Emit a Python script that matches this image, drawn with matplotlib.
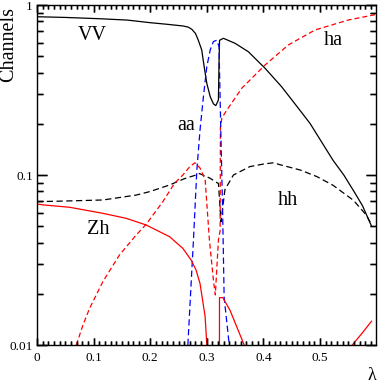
import numpy as np
import matplotlib
matplotlib.use("Agg")
import matplotlib.pyplot as plt
from matplotlib.collections import LineCollection
from matplotlib.ticker import FixedLocator, FixedFormatter, LogLocator, NullFormatter, MultipleLocator

plt.rcParams['font.family'] = ['Liberation Serif', 'DejaVu Serif']

# ---- data ----
vv_x = [0, 0.05, 0.112, 0.16, 0.2, 0.23, 0.259, 0.2676, 0.2736, 0.28, 0.285, 0.291, 0.2953, 0.300,
        0.306, 0.3117, 0.3159, 0.3205, 0.3215, 0.3225, 0.3293, 0.35, 0.3734, 0.403, 0.432, 0.4617,
        0.4824, 0.523, 0.542, 0.56, 0.575, 0.591]
vv_y = [0.853, 0.845, 0.83, 0.815, 0.787, 0.77, 0.752, 0.74, 0.719, 0.68, 0.62, 0.544, 0.434, 0.346,
        0.289, 0.262, 0.256, 0.276, 0.45, 0.62, 0.637, 0.595, 0.531, 0.424, 0.331, 0.247,
        0.201, 0.122, 0.1, 0.08, 0.066, 0.05]

hh_x = [0, 0.05, 0.1164, 0.1753, 0.2, 0.234, 0.26, 0.281, 0.287, 0.306, 0.3206, 0.325, 0.332, 0.347,
        0.376, 0.40, 0.418, 0.429, 0.465, 0.494, 0.523, 0.559, 0.582, 0.591]
hh_y = [0.0697, 0.0703, 0.0713, 0.0762, 0.080, 0.0873, 0.095, 0.1, 0.102, 0.0956, 0.089, 0.053, 0.082, 0.1,
        0.112, 0.116, 0.118, 0.115, 0.107, 0.098, 0.087, 0.071, 0.058, 0.051]

ha_x = [0.0694, 0.0812, 0.0928, 0.1164, 0.1458, 0.1753, 0.1929, 0.2223, 0.2429, 0.2577, 0.270, 0.279,
        0.288, 0.297, 0.3046, 0.3117, 0.315, 0.3205, 0.3235, 0.3240, 0.3265, 0.335, 0.3618, 0.403,
        0.444, 0.4912, 0.55, 0.597]
ha_y = [0.01, 0.0131, 0.0164, 0.0236, 0.0339, 0.0444, 0.0513, 0.0697, 0.0893, 0.1, 0.112, 0.118,
        0.11, 0.094, 0.0415, 0.024, 0.0197, 0.0415, 0.047, 0.19, 0.216, 0.24, 0.324, 0.444,
        0.582, 0.713, 0.816, 0.877]

aa_x = [0.2665, 0.2764, 0.2824, 0.288, 0.294, 0.300, 0.306, 0.3117, 0.3177, 0.3217, 0.3223,
        0.3247, 0.328, 0.3306, 0.3394]
aa_y = [0.01, 0.0415, 0.107, 0.184, 0.289, 0.434, 0.544, 0.61, 0.62, 0.568, 0.434,
        0.184, 0.0595, 0.019, 0.0102]

zh_x = [0, 0.0106, 0.0575, 0.1164, 0.1576, 0.1929, 0.234, 0.2577, 0.2723, 0.281, 0.288, 0.297, 0.300,
        np.nan, 0.3223, 0.3224, 0.3282, 0.341, 0.366,
        np.nan, 0.557, 0.574, 0.591]
zh_y = [0.0675, 0.0667, 0.0646, 0.0595, 0.0556, 0.0508, 0.0434, 0.037, 0.0316, 0.0276, 0.023, 0.0147, 0.01,
        np.nan, 0.009, 0.019, 0.019, 0.016, 0.01,
        np.nan, 0.01, 0.0117, 0.0138]

labels = ['VV', 'ha', 'aa', 'hh', 'Zh']
label_x = [0.097, 0.523, 0.264, 0.4435, 0.109]
label_y = [0.622, 0.582, 0.184, 0.0667, 0.045]

xtick_vals = [0, 0.1, 0.2, 0.3, 0.4, 0.5]
xtick_labels = ['0', '0.1', '0.2', '0.3', '0.4', '0.5']
ytick_vals = [0.01, 0.1, 1]
ytick_labels = ['0.01', '0.1', '1']

# ---- figure ----
fig = plt.figure(figsize=(3.78, 3.82), dpi=100)
ax_w_px, ax_h_px = 375.5 - 37, 345 - 5
ax = fig.add_axes([37/378, 1 - 345/382, ax_w_px/378, ax_h_px/382])

lw = 0.9
ax.plot(vv_x, vv_y, color='black', lw=lw)
ax.plot(hh_x, hh_y, color='black', lw=lw, dashes=(5, 2.8))
ax.plot(ha_x, ha_y, color='#ff0000', lw=lw, dashes=(4, 2.4))
ax.plot(aa_x, aa_y, color='#0000ff', lw=lw, dashes=(5, 2.8))
ax.plot(zh_x, zh_y, color='#ff0000', lw=lw)

for t, x, y in zip(labels, label_x, label_y):
    ax.text(x, y, t, fontsize=14.5, ha='center', va='baseline')

ax.set_yscale('log')
ax.set_xlim(0, 0.598)
ax.set_ylim(0.01, 1)

ax.xaxis.set_major_locator(FixedLocator(xtick_vals))
ax.xaxis.set_major_formatter(FixedFormatter(xtick_labels))
ax.xaxis.set_minor_locator(MultipleLocator(0.01))
ax.yaxis.set_major_locator(FixedLocator(ytick_vals))
ax.yaxis.set_major_formatter(FixedFormatter(ytick_labels))
ax.yaxis.set_minor_locator(LogLocator(base=10, subs=np.arange(2, 10), numticks=20))
ax.yaxis.set_minor_formatter(NullFormatter())

ax.tick_params(axis='x', which='major', direction='in', top=True, bottom=True, length=5, width=1.0,
               color='black', labelsize=9.5, pad=5)
ax.tick_params(axis='x', which='minor', direction='in', top=True, bottom=True, length=3, width=1.0,
               color='black')
ax.tick_params(axis='y', which='major', direction='in', left=True, right=True, length=7, width=1.0,
               color='black', labelsize=9.5, pad=3)
ax.tick_params(axis='y', which='minor', direction='in', left=True, right=True, length=4.3, width=1.0,
               color='black')
for s in ax.spines.values():
    s.set_linewidth(1.0)

# tick marks also drawn as plain line segments at the same tick positions
x_major_len, x_minor_len = 7 / ax_h_px, 4 / ax_h_px
y_major_len, y_minor_len = 10 / ax_w_px, 6 / ax_w_px
xmin_t = [v for v in np.round(np.arange(0.01, 0.598, 0.01), 2) if v not in xtick_vals]
ymin_t = [k * 10.0 ** e for e in (-2, -1) for k in range(2, 10)]
xsegs = []
for v, L in [(v, x_major_len) for v in xtick_vals] + [(v, x_minor_len) for v in xmin_t]:
    xsegs.append([(v, 0), (v, L)])
    xsegs.append([(v, 1), (v, 1 - L)])
ysegs = []
for v, L in [(v, y_major_len) for v in ytick_vals] + [(v, y_minor_len) for v in ymin_t]:
    ysegs.append([(0, v), (L, v)])
    ysegs.append([(1, v), (1 - L, v)])
ax.add_collection(LineCollection(xsegs, colors='black', linewidths=1.0, zorder=5,
                                 transform=ax.get_xaxis_transform(), clip_on=False))
ax.add_collection(LineCollection(ysegs, colors='black', linewidths=1.0, zorder=5,
                                 transform=ax.get_yaxis_transform(), clip_on=False))

fig.text(9/378, 1 - 44/382, 'Channels', rotation=90, fontsize=14.5, ha='center', va='center')
fig.text(372/378, 1 - 375/382, 'λ', fontsize=13, ha='center', va='center')

fig.savefig('out.png', dpi=100)
